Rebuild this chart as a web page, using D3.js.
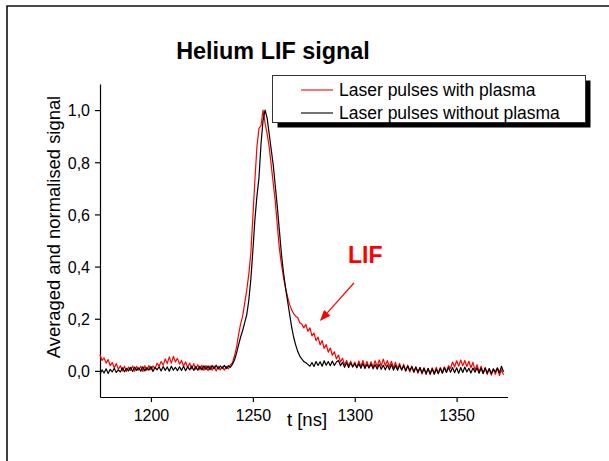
<!DOCTYPE html>
<html><head><meta charset="utf-8">
<script src="https://cdn.jsdelivr.net/npm/d3@7"></script>
<style>body{margin:0;background:#fff}svg{display:block}</style>
</head><body><svg id="c" width="609" height="461"></svg>
<script>
// ---- data ----
const tStart = 1175;   // ns, first sample time
const tStep = 1;       // ns between samples
const withPlasma = [
  0.062, 0.040, 0.050, 0.030, 0.044, 0.020, 0.032, 0.012, 0.028, 0.006,
  0.020, 0.000, 0.018, -0.002, 0.015, 0.002, 0.019, -0.001, 0.017, 0.003,
  0.018, -0.002, 0.020, 0.002, 0.021, 0.004, 0.019, 0.008, 0.030, 0.018,
  0.036, 0.022, 0.046, 0.028, 0.054, 0.030, 0.056, 0.034, 0.048, 0.026,
  0.040, 0.018, 0.035, 0.012, 0.030, 0.008, 0.028, 0.006, 0.024, 0.004,
  0.022, 0.002, 0.021, 0.001, 0.020, 0.003, 0.019, 0.000, 0.018, 0.004,
  0.016, 0.003, 0.017, 0.008, 0.024, 0.032, 0.058, 0.090, 0.140, 0.180,
  0.210, 0.260, 0.310, 0.370, 0.450, 0.590, 0.730, 0.860, 0.930, 0.940,
  1.000, 0.950, 0.910, 0.860, 0.790, 0.720, 0.650, 0.560, 0.470, 0.410,
  0.360, 0.320, 0.285, 0.255, 0.235, 0.220, 0.210, 0.205, 0.185, 0.180,
  0.165, 0.178, 0.152, 0.165, 0.134, 0.145, 0.116, 0.130, 0.100, 0.116,
  0.086, 0.101, 0.072, 0.088, 0.060, 0.073, 0.046, 0.061, 0.034, 0.048,
  0.024, 0.040, 0.020, 0.037, 0.016, 0.034, 0.013, 0.038, 0.017, 0.040,
  0.015, 0.036, 0.012, 0.035, 0.014, 0.039, 0.017, 0.042, 0.019, 0.045,
  0.020, 0.040, 0.015, 0.037, 0.011, 0.033, 0.008, 0.029, 0.003, 0.026,
  0.000, 0.022, -0.004, 0.019, -0.006, 0.016, -0.009, 0.013, -0.012, 0.012,
  -0.014, 0.010, -0.013, 0.012, -0.010, 0.014, -0.008, 0.013, -0.007, 0.016,
  -0.003, 0.020, 0.010, 0.034, 0.015, 0.039, 0.018, 0.042, 0.020, 0.040,
  0.017, 0.037, 0.012, 0.033, 0.004, 0.024, -0.004, 0.018, -0.010, 0.013,
  -0.014, 0.008, -0.016, 0.006, -0.013, 0.010, -0.018, 0.004, -0.015
];
const withoutPlasma = [
  -0.014, 0.004, -0.008, 0.008, -0.010, 0.006, -0.004, 0.010, -0.006, 0.004,
  -0.004, 0.012, -0.003, 0.010, 0.000, 0.014, -0.002, 0.015, 0.002, 0.012,
  -0.001, 0.016, 0.000, 0.013, 0.003, 0.017, -0.002, 0.014, 0.004, 0.016,
  0.000, 0.017, 0.002, 0.015, -0.001, 0.018, 0.003, 0.014, 0.001, 0.016,
  0.002, 0.018, 0.001, 0.016, 0.004, 0.019, 0.002, 0.017, 0.003, 0.018,
  0.004, 0.020, 0.006, 0.019, 0.005, 0.021, 0.008, 0.022, 0.007, 0.019,
  0.010, 0.021, 0.009, 0.020, 0.014, 0.026, 0.042, 0.068, 0.100, 0.130,
  0.155, 0.185, 0.215, 0.270, 0.350, 0.460, 0.580, 0.670, 0.740, 0.870,
  0.960, 1.000, 0.970, 0.910, 0.850, 0.790, 0.710, 0.630, 0.540, 0.450,
  0.380, 0.320, 0.270, 0.220, 0.170, 0.130, 0.100, 0.075, 0.057, 0.046,
  0.036, 0.031, 0.025, 0.018, 0.032, 0.017, 0.036, 0.021, 0.035, 0.018,
  0.039, 0.022, 0.036, 0.020, 0.038, 0.021, 0.034, 0.040, 0.020, 0.033,
  0.014, 0.031, 0.013, 0.030, 0.015, 0.028, 0.012, 0.027, 0.010, 0.028,
  0.009, 0.025, 0.011, 0.026, 0.008, 0.024, 0.007, 0.025, 0.006, 0.022,
  0.004, 0.023, 0.005, 0.024, 0.003, 0.021, 0.002, 0.022, 0.004, 0.020,
  0.000, 0.019, 0.002, 0.016, -0.003, 0.014, -0.004, 0.013, -0.008, 0.010,
  -0.010, 0.009, -0.012, 0.008, -0.013, 0.006, -0.011, 0.010, -0.009, 0.012,
  -0.006, 0.014, -0.005, 0.013, -0.007, 0.012, -0.009, 0.013, -0.006, 0.015,
  -0.004, 0.010, -0.008, 0.011, -0.005, 0.012, -0.009, 0.010, -0.010, 0.011,
  -0.008, 0.009, -0.011, 0.008, -0.004, 0.012, -0.007, 0.018, -0.003
];
const seriesNames = ["Laser pulses with plasma", "Laser pulses without plasma"];
const seriesColors = ["#ff0000", "#000000"];
const xMajorTicks = [1200, 1250, 1300, 1350];
const xMinorTicks = [1175, 1225, 1275, 1325, 1375];
const yMajorTicks = [0.0, 0.2, 0.4, 0.6, 0.8, 1.0];
const yMinorTicks = [-0.1, 0.1, 0.3, 0.5, 0.7, 0.9, 1.1];
const titleText = "Helium LIF signal";
const xLabel = "t [ns]";
const yLabel = "Averaged and normalised signal";
const annotText = "LIF";
const annotLabelPos = [1296.7, 0.414];
const annotArrow = [[1299.6, 0.337], [1282.9, 0.191]];

// ---- drawing ----
const FONT = "Arial, 'Liberation Sans', Helvetica, sans-serif";
const svg = d3.select("#c");
const x = d3.scaleLinear().domain([1175, 1375]).range([100, 507.6]);
const y = d3.scaleLinear().domain([-0.1, 1.1]).range([397, 84]);

// outer frame (only top & left edges visible)
svg.append("path").attr("d", "M7,461V6H609").attr("fill", "none")
  .attr("stroke", "#111").attr("stroke-width", 1.6);

// title
svg.append("text").attr("x", 273).attr("y", 59).attr("text-anchor", "middle")
  .attr("font-family", FONT).attr("font-weight", "bold").attr("font-size", 23.4)
  .text(titleText);

// axes
const gx = svg.append("g").attr("transform", `translate(0,${y.range()[0]})`);
gx.call(d3.axisBottom(x).tickValues(xMinorTicks).tickSize(3.5).tickFormat(""));
gx.call(d3.axisBottom(x).tickValues(xMajorTicks).tickSize(5).tickSizeOuter(0).tickFormat(d3.format("d")));
const gy = svg.append("g").attr("transform", `translate(${x.range()[0]},0)`);
gy.call(d3.axisLeft(y).tickValues(yMinorTicks).tickSize(3.5).tickFormat(""));
gy.call(d3.axisLeft(y).tickValues(yMajorTicks).tickSize(5).tickSizeOuter(0)
  .tickFormat(d => d3.format(".1f")(d).replace(".", ",")));
svg.selectAll(".domain").attr("stroke", "#000").attr("stroke-width", 1.2);
svg.selectAll(".tick line").attr("stroke", "#000").attr("stroke-width", 1.2);
gx.selectAll(".tick text").attr("font-family", FONT).attr("font-size", 16).attr("fill", "#000")
  .attr("y", 13).attr("dy", "0.71em");
gy.selectAll(".tick text").attr("font-family", FONT).attr("font-size", 16).attr("fill", "#000")
  .attr("x", -10).attr("dy", "0.36em");

// axis labels
svg.append("text").attr("x", 307).attr("y", 426).attr("text-anchor", "middle")
  .attr("font-family", FONT).attr("font-size", 18.5).text(xLabel);
svg.append("text").attr("transform", "translate(60,227) rotate(-90)").attr("text-anchor", "middle")
  .attr("font-family", FONT).attr("font-size", 18.4).text(yLabel);

// series
const series = [withPlasma, withoutPlasma];
const line = d3.line().x((d, i) => x(tStart + i * tStep)).y(d => y(d));
series.forEach((vals, k) => {
  svg.append("path").datum(vals).attr("d", line).attr("fill", "none")
    .attr("stroke", seriesColors[k]).attr("stroke-width", 1.2).attr("stroke-linejoin", "round");
});

// annotation
svg.append("text").attr("x", x(annotLabelPos[0])).attr("y", y(annotLabelPos[1]))
  .attr("font-family", FONT).attr("font-weight", "bold").attr("font-size", 23)
  .attr("fill", "#ff0000").text(annotText);
const [a0, a1] = annotArrow;
const ax0 = x(a0[0]), ay0 = y(a0[1]), ax1 = x(a1[0]), ay1 = y(a1[1]);
const ang = Math.atan2(ay1 - ay0, ax1 - ax0);
const hl = 11, hw = 4.2;
const bx = ax1 - hl * Math.cos(ang), by = ay1 - hl * Math.sin(ang);
svg.append("line").attr("x1", ax0).attr("y1", ay0).attr("x2", bx).attr("y2", by)
  .attr("stroke", "#ff0000").attr("stroke-width", 1.2);
svg.append("path").attr("d", `M${ax1},${ay1}L${bx - hw * Math.sin(ang)},${by + hw * Math.cos(ang)}L${bx + hw * Math.sin(ang)},${by - hw * Math.cos(ang)}Z`)
  .attr("fill", "#ff0000");

// legend
const lg = svg.append("g");
lg.append("rect").attr("x", 277.5).attr("y", 80.5).attr("width", 313).attr("height", 47).attr("fill", "#000");
lg.append("rect").attr("x", 272.5).attr("y", 75.5).attr("width", 313).attr("height", 47)
  .attr("fill", "#fff").attr("stroke", "#333").attr("stroke-width", 1);
seriesNames.forEach((name, k) => {
  const yy = 90 + k * 23;
  lg.append("line").attr("x1", 301).attr("x2", 333).attr("y1", yy).attr("y2", yy)
    .attr("stroke", seriesColors[k]).attr("stroke-width", 1.1);
  lg.append("text").attr("x", 339).attr("y", yy + 6.2).attr("font-family", FONT)
    .attr("font-size", 17.5).text(name);
});
</script></body></html>
